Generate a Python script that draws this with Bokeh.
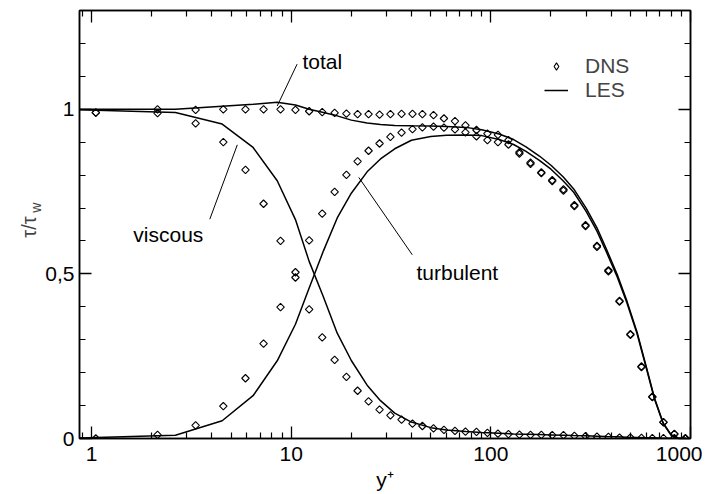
import numpy as np
from bokeh.plotting import figure
from bokeh.models import (LogAxis, LinearAxis, FixedTicker, Label, Legend,
                          LegendItem, Range1d)
from bokeh.embed import file_html
from bokeh.resources import INLINE

# ---------------- data ----------------
# DNS (symbols)
dns_yplus = [1.05, 2.14, 3.32, 4.57, 5.90, 7.27, 8.84, 10.5, 12.3, 14.3, 16.5,
             18.9, 21.5, 24.4, 27.7, 31.4, 35.7, 40.5, 45.4, 51.6, 58.2, 66.1,
             74.6, 84.7, 96.1, 108.5, 122.5, 139, 158, 179, 203, 231, 262, 298,
             340, 388, 441, 500, 568, 644, 732, 830, 943]
dns_total = [0.99, 1.0, 0.998, 1.0, 1.0, 1.0, 1.0, 0.998, 0.994, 0.991, 0.989,
             0.987, 0.985, 0.985, 0.984, 0.985, 0.986, 0.986, 0.985, 0.982,
             0.972, 0.964, 0.951, 0.937, 0.926, 0.922, 0.906, 0.870, 0.838,
             0.808, 0.785, 0.757, 0.709, 0.648, 0.585, 0.511, 0.418, 0.317,
             0.219, 0.127, 0.050, 0.014, 0.0]
dns_viscous = [0.99, 0.988, 0.957, 0.900, 0.816, 0.713, 0.600, 0.505, 0.392,
               0.307, 0.239, 0.187, 0.145, 0.113, 0.088, 0.070, 0.057, 0.045,
               0.038, 0.031, 0.026, 0.023, 0.021, 0.020, 0.017, 0.015, 0.013,
               0.012, 0.011, 0.011, 0.010, 0.010, 0.008, 0.007, 0.006, 0.005,
               0.003, 0.003, 0.002, 0.001, 0.001, 0.001, 0.0]
dns_turbulent = [0.0, 0.011, 0.040, 0.098, 0.183, 0.288, 0.399, 0.489, 0.602,
                 0.683, 0.749, 0.801, 0.842, 0.874, 0.896, 0.916, 0.929, 0.940,
                 0.945, 0.947, 0.944, 0.939, 0.930, 0.918, 0.906, 0.900, 0.893,
                 0.865, 0.834, 0.806, 0.782, 0.753, 0.706, 0.645, 0.582, 0.508,
                 0.416, 0.315, 0.217, 0.126, 0.049, 0.013, 0.0]

# LES (lines)
les_yplus = [0.7, 2.63, 4.51, 6.44, 8.51, 10.5, 12.3, 14.5, 17, 20, 24, 28, 33,
             40, 50, 60, 75, 90, 110, 130, 150, 175, 200, 230, 260, 300, 340,
             380, 430, 480, 540, 600, 660, 730, 800, 870, 950]
les_total = [1.0, 1.0, 1.009, 1.015, 1.021, 1.013, 1.0, 0.99, 0.98, 0.967,
             0.958, 0.954, 0.951, 0.95, 0.949, 0.948, 0.945, 0.938, 0.925,
             0.908, 0.886, 0.858, 0.83, 0.795, 0.758, 0.70, 0.64, 0.574, 0.497,
             0.418, 0.323, 0.219, 0.123, 0.047, 0.011, 0.0, 0.0]
les_viscous = [1.0, 0.99, 0.955, 0.884, 0.783, 0.665, 0.538, 0.430, 0.32,
               0.237, 0.162, 0.115, 0.077, 0.050, 0.033, 0.026, 0.021, 0.018,
               0.016, 0.014, 0.013, 0.012, 0.011, 0.010, 0.009, 0.008, 0.007,
               0.006, 0.005, 0.004, 0.003, 0.002, 0.002, 0.001, 0.001, 0.0, 0.0]
les_turbulent = [0.0, 0.010, 0.054, 0.130, 0.236, 0.347, 0.457, 0.570, 0.670,
                 0.745, 0.810, 0.849, 0.880, 0.906, 0.917, 0.921, 0.922, 0.920,
                 0.908, 0.893, 0.872, 0.845, 0.818, 0.783, 0.748, 0.690, 0.630,
                 0.565, 0.490, 0.412, 0.318, 0.215, 0.120, 0.045, 0.010, 0.0,
                 0.0]

# axes ticks
x_major = [1, 10, 100, 1000]
x_minor = [0.9, 2, 3, 4, 5, 6, 7, 8, 9, 20, 30, 40, 50, 60, 70, 80, 90,
           200, 300, 400, 500, 600, 700, 800, 900]
x_labels = {1: "1", 10: "10", 100: "100", 1000: "1000"}
y_major = [0, 0.5, 1]
y_minor = [0.1, 0.2, 0.3, 0.4, 0.6, 0.7, 0.8, 0.9, 1.1, 1.2]
y_labels = {0: "0", 0.5: "0,5", 1: "1"}

# annotations: text, x, y
ann_text = ["total", "viscous", "turbulent"]
ann_x = [11.39, 1.618, 42.4]
ann_y = [1.144, 0.620, 0.504]
lead_x0 = [10.7, 3.91, 40.4]
lead_y0 = [1.137, 0.666, 0.558]
lead_x1 = [8.51, 5.37, 21.8]
lead_y1 = [1.01, 0.892, 0.793]

FONT = "Liberation Sans"
FS = "21px"

p = figure(x_axis_type="log", x_range=Range1d(0.87, 1000), y_range=Range1d(0, 1.3),
           frame_width=611, frame_height=428, output_backend="svg",
           toolbar_location=None, min_border_left=79, min_border_right=12,
           min_border_top=10, min_border_bottom=56)
p.xgrid.visible = False
p.ygrid.visible = False
p.outline_line_color = "black"
p.outline_line_width = 1.5
p.background_fill_color = "white"
p.border_fill_color = "white"

xt = FixedTicker(ticks=x_major, minor_ticks=x_minor)
yt = FixedTicker(ticks=y_major, minor_ticks=y_minor)

def style_axis(ax, ticker, labels=None, standoff=6):
    ax.ticker = ticker
    ax.major_tick_in = 12
    ax.major_tick_out = 0
    ax.minor_tick_in = 6
    ax.minor_tick_out = 0
    ax.axis_line_width = 1.5
    ax.major_tick_line_width = 1.3
    ax.minor_tick_line_width = 1.2
    ax.axis_line_color = "black"
    ax.major_tick_line_color = "black"
    ax.minor_tick_line_color = "black"
    if labels is not None:
        ax.major_label_overrides = labels
        ax.major_label_text_font = FONT
        ax.major_label_text_font_size = FS
        ax.major_label_text_color = "black"
        ax.major_label_standoff = standoff
    else:
        ax.major_label_text_font_size = "1px"
        ax.major_label_text_alpha = 0
        ax.major_label_standoff = 0

style_axis(p.xaxis[0], xt, x_labels, standoff=8)
style_axis(p.yaxis[0], yt, y_labels, standoff=5)

# x-axis title
xa = p.xaxis[0]
xa.axis_label = "y\u207a"
xa.axis_label_text_font = FONT
xa.axis_label_text_font_size = FS
xa.axis_label_text_font_style = "normal"
xa.axis_label_text_color = "black"
xa.axis_label_standoff = 4

top = LogAxis()
style_axis(top, xt)
p.add_layout(top, "above")
right = LinearAxis()
style_axis(right, yt)
p.add_layout(right, "right")

# DNS symbols
mk = dict(marker="square", angle=np.pi / 4, size=5.3, fill_color=None,
          line_color="black", line_width=1.1)
p.scatter(dns_yplus, dns_total, **mk)
p.scatter(dns_yplus, dns_viscous, **mk)
p.scatter(dns_yplus, dns_turbulent, **mk)
# hidden diamond renderer, used only as the legend swatch for DNS
r_dns = p.scatter(dns_yplus, dns_total, marker="diamond", fill_color=None,
                  line_color="black", line_width=1.1, visible=False)

# LES lines
ln = dict(line_color="black", line_width=1.5)
r_les = p.line(les_yplus, les_total, **ln)
p.line(les_yplus, les_viscous, **ln)
p.line(les_yplus, les_turbulent, **ln)

# leader lines and annotation texts
p.segment(lead_x0, lead_y0, lead_x1, lead_y1, line_color="black", line_width=1)
for t, x, y in zip(ann_text, ann_x, ann_y):
    p.add_layout(Label(x=x, y=y, text=t, text_font=FONT, text_font_size=FS,
                       text_baseline="alphabetic", text_align="left",
                       text_color="black"))

# y-axis title (tau / tau_w) as labels in the left side panel
p.add_layout(Label(x=0.487, y=0.610, text="τ/τ", angle=np.pi / 2,
                   text_font=FONT, text_font_size="20px",
                   text_baseline="alphabetic", text_align="left"), "left")
p.add_layout(Label(x=0.527, y=0.686, text="w", angle=np.pi / 2,
                   text_font=FONT, text_font_size="14px",
                   text_baseline="alphabetic", text_align="left"), "left")

legend = Legend(items=[LegendItem(label="DNS", renderers=[r_dns]),
                       LegendItem(label="LES", renderers=[r_les])],
                location=(465, 336), border_line_color=None,
                background_fill_alpha=0, padding=0, margin=0, spacing=-2,
                glyph_width=24, glyph_height=18, label_standoff=17,
                inactive_fill_alpha=0,
                label_text_font=FONT, label_text_font_size=FS, label_height=20)
p.add_layout(legend)

open("out.html", "w").write(file_html(p, INLINE))
